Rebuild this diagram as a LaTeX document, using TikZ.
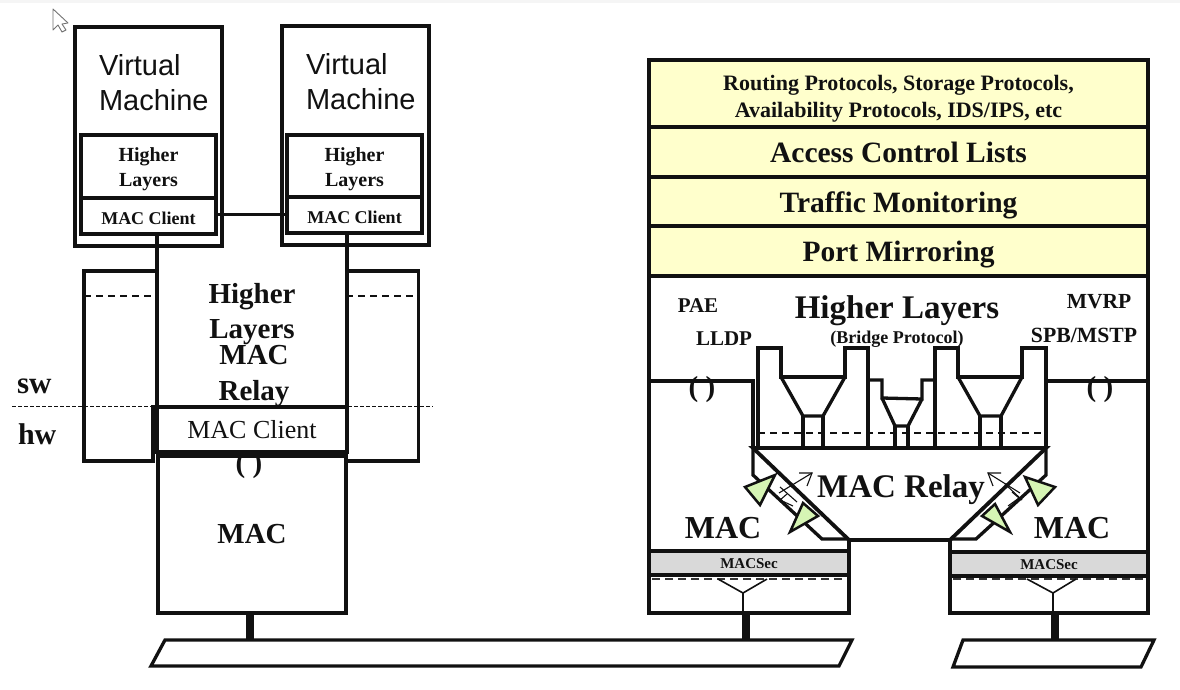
\documentclass[tikz,border=0pt]{standalone}
\usepackage{fontspec}
\setmainfont{Liberation Serif}
\newfontfamily\armfont{Liberation Sans}
\newcommand{\fs}[1]{\fontsize{#1}{#1}\selectfont}
\newcommand{\down}[2]{\raisebox{-#1pt}[0pt][0pt]{\begin{tabular}{@{}c@{}}#2\end{tabular}}}
\definecolor{ink}{HTML}{111111}
\definecolor{creme}{HTML}{FFFFCC}
\definecolor{leaf}{HTML}{D6F5B4}
\definecolor{sec}{HTML}{D9D9D9}
\tikzset{
  heavy/.style={draw=ink,line width=3.3pt,line join=miter},
  mid/.style={draw=ink,line width=1.6pt,line join=miter},
  boxn/.style={draw=ink,line width=3.3pt,fill=white,inner sep=0pt,outer sep=0pt,align=center,text=ink,font=\bfseries},
  stackn/.style={boxn,fill=creme},
  lab/.style={inner sep=0pt,outer sep=0pt,text=ink,font=\bfseries,align=center},
  plainlab/.style={inner sep=0pt,outer sep=0pt,text=ink},
  dash1/.style={draw=ink,line width=1.4pt,dash pattern=on 7pt off 5pt},
  dash2/.style={draw=ink!85,line width=1.8pt,dash pattern=on 8pt off 5pt},
  thin1/.style={draw=ink,line width=1.1pt},
  tri/.style={draw=ink,line width=2.5pt,fill=leaf,line join=miter},
}
\begin{document}
\begin{tikzpicture}[x=1pt,y=-1pt]
\useasboundingbox (0,0) rectangle (1180,690);
\fill[white] (0,0) rectangle (1180,690);
\fill[black!4] (0,0) rectangle (1180,3);
% cursor
\draw[draw=black!55,fill=white,line width=.9pt,line join=round] (53,9) -- (53,30) -- (58,25) -- (62,32) -- (66,30) -- (62,24) -- (68,23) -- cycle;

% ---- left: side panels
\draw[heavy] (157,271) -- (84,271) -- (84,461) -- (153,461) -- (153,405);
\draw[heavy] (346,271) -- (418.5,271) -- (418.5,461) -- (347,461);
\draw[dash1] (84,296) -- (157,296);
\draw[dash1] (346,296) -- (418,296);

% ---- left: virtual machines
\node[boxn,minimum width=147pt,minimum height=219pt] (vma) at (148.5,136.5) {};
\node[boxn,minimum width=147pt,minimum height=219pt] (vmb) at (355.5,135.5) {};
\node[plainlab,anchor=west,font=\armfont\fs{29}] (vta) at (99,65) {Virtual};
\node[plainlab,anchor=west,font=\armfont\fs{29}] (vtb) at (99,100) {Machine};
\node[plainlab,anchor=west,font=\armfont\fs{29}] (vtc) at (306,64) {Virtual};
\node[plainlab,anchor=west,font=\armfont\fs{29}] (vtd) at (306,99) {Machine};
\node[boxn,minimum width=135pt,minimum height=63pt,font=\bfseries\fs{20}] (hla) at (148.5,166.5) {\down{9}{Higher\\[5pt]Layers}};
\node[boxn,minimum width=135pt,minimum height=36pt,font=\bfseries\fs{18}] (mca) at (148.5,216) {\down{9}{MAC Client}};
\node[boxn,minimum width=135pt,minimum height=62pt,font=\bfseries\fs{20}] (hlb) at (354.5,166) {\down{9}{Higher\\[5pt]Layers}};
\node[boxn,minimum width=135pt,minimum height=36pt,font=\bfseries\fs{18}] (mcb) at (354.5,215) {\down{9}{MAC Client}};
\draw[heavy] ([yshift=1.5pt]mca.east) -- ([yshift=1.5pt]mca.east -| mcb.west);

% ---- left: hypervisor column
\node[boxn,line width=3.8pt,minimum width=190pt,minimum height=45pt,font=\fs{26}] (cl) at (252,429.5) {\down{10}{MAC Client}};
\node[boxn,minimum width=188pt,minimum height=157pt,font=\bfseries\fs{29}] (mb) at (252,534.5) {MAC};
\draw[heavy] (cl.north west |- mca.south) -- (cl.north west);
\draw[heavy] (cl.north east |- mcb.south) -- (cl.north east);
\node[lab,font=\bfseries\fs{29}] (t1) at (252,297) {Higher};
\node[lab,font=\bfseries\fs{29}] (t2) at (252,332) {Layers};
\node[lab,font=\bfseries\fs{29}] (t3) at (254,355) {MAC};
\node[lab,font=\bfseries\fs{29}] (t4) at (254,394) {Relay};
\node[lab,font=\bfseries\fs{29}] (p0) at (249,466) {( )};
\node[lab,anchor=west,font=\bfseries\fs{31}] (sw) at (17,386) {sw};
\node[lab,anchor=west,font=\bfseries\fs{30}] (hw) at (18,434) {hw};
\coordinate (dl) at (12,406);
\coordinate (dr) at (433,406);
\draw[draw=ink,line width=1pt,dash pattern=on 3.5pt off 2.5pt] (dl) -- (dr);

% ---- right: yellow stack
\node[stackn,minimum width=499pt,minimum height=67pt,font=\bfseries\fs{22}] (s1) at (898.5,93.5) {\down{11}{Routing Protocols, Storage Protocols,\\[5pt]Availability Protocols, IDS/IPS, etc}};
\node[stackn,minimum width=499pt,minimum height=50pt,font=\bfseries\fs{29.5}] (s2) at (898.5,152) {\down{11}{Access Control Lists}};
\node[stackn,minimum width=499pt,minimum height=49pt,font=\bfseries\fs{29.5}] (s3) at (898.5,201.5) {\down{11}{Traffic Monitoring}};
\node[stackn,minimum width=499pt,minimum height=50pt,font=\bfseries\fs{29.5}] (s4) at (898.5,251) {\down{11}{Port Mirroring}};

% frame
\draw[heavy] (s4.south west) -- (649,613) -- (849,613) -- (849,540);
\draw[heavy] (s4.south east) -- (1148,613) -- (950,613) -- (950,540);
\draw[heavy] (649,381) -- (753,381) -- (753,448);
\draw[heavy] (1148,381) -- (1046,381);

% towers and funnels
\draw[dash1] (758,433) -- (1046,433);
\draw[heavy] (758,448) -- (758,348) -- (781,348) -- (781,377) -- (845,377) -- (845,348) -- (868,348) -- (868,448);
\draw[heavy] (781,377) -- (803,416) -- (823,416) -- (845,377);
\draw[heavy] (803,416) -- (803,448);
\draw[heavy] (823,416) -- (823,448);
\draw[heavy] (868,380) -- (882,380) -- (882,398) -- (922,399) -- (922,380) -- (935,380);
\draw[heavy] (882,398) -- (895,426) -- (908,426) -- (922,399);
\draw[heavy] (895,426) -- (895,448);
\draw[heavy] (908,426) -- (908,448);
\draw[heavy] (935,448) -- (935,348) -- (958,348) -- (958,377) -- (1022,377) -- (1022,348) -- (1046,348) -- (1046,448);
\draw[heavy] (958,377) -- (980,416) -- (1001,416) -- (1022,377);
\draw[heavy] (980,416) -- (980,448);
\draw[heavy] (1001,416) -- (1001,448);

% relay trapezoid
\draw[draw=ink,line width=3.8pt,line join=miter] (849,540) -- (753,448) -- (1046,448) -- (950,540) -- cycle;
\draw[heavy] (753,448) -- (753,475) -- (822,539) -- (849,539);
\draw[heavy] (1046,448) -- (1046,475) -- (976,539) -- (950,539);

% small arrows
\draw[thin1] (779,493) -- (812,473);
\draw[thin1] (799,473) -- (812,473) -- (807,486);
\draw[thin1] (780,487) -- (797,502);
\draw[thin1] (787,494) -- (780,500) -- (793,506);
\draw[thin1] (1020,493) -- (988,473);
\draw[thin1] (1001,473) -- (988,473) -- (993,486);
\draw[thin1] (1005,484) -- (1022,500);
\draw[thin1] (1012,492) -- (1019,498) -- (1008,506);

% triangles
\draw[tri] (775,475) -- (745,487) -- (760,505) -- cycle;
\draw[tri] (803,503) -- (818,516) -- (790,532) -- cycle;
\draw[tri] (1025,477) -- (1055,487) -- (1038,505) -- cycle;
\draw[tri] (995,504) -- (1010,532) -- (982,516) -- cycle;

% MACSec
\node[boxn,fill=sec,minimum width=200pt,minimum height=24pt,font=\bfseries\fs{15}] (sa) at (749,563) {\down{6}{MACSec}};
\node[boxn,fill=sec,minimum width=198pt,minimum height=24pt,font=\bfseries\fs{15}] (sb) at (1049,564) {\down{6}{MACSec}};
\draw[dash2] (652,579) -- (846,579);
\draw[dash2] (953,579) -- (1145,579);
\draw[mid] (718,579) -- (743,593) -- (767,579);
\draw[mid] (743,593) -- (743,613);
\draw[mid] (1027,579) -- (1053,593) -- (1076,579);
\draw[mid] (1053,593) -- (1053,613);

% buses
\draw[heavy,fill=white] (165,640) -- (852,640) -- (839,666) -- (151,666) -- cycle;
\draw[heavy,fill=white] (963,640) -- (1154,640) -- (1141,667) -- (953,667) -- cycle;
\draw[draw=ink,line width=8pt] (250,613) -- (250,640);
\draw[draw=ink,line width=8pt] (746,613) -- (746,640);
\draw[draw=ink,line width=8pt] (1055,613) -- (1055,640);

% right labels
\node[lab,font=\bfseries\fs{21}] (pae) at (698,306) {PAE};
\node[lab,font=\bfseries\fs{21}] (lldp) at (724,339) {LLDP};
\node[lab,font=\bfseries\fs{21.5}] (mvrp) at (1099,302) {MVRP};
\node[lab,font=\bfseries\fs{21.7}] (spb) at (1084,335) {SPB/MSTP};
\node[lab,font=\bfseries\fs{33}] (hlr) at (897,311) {Higher Layers};
\node[lab,font=\bfseries\fs{18}] (bp) at (897,339) {(Bridge Protocol)};
\node[lab,font=\bfseries\fs{33}] (rel) at (901,490) {MAC Relay};
\node[lab,font=\bfseries\fs{32}] (ml) at (723,528) {MAC};
\node[lab,font=\bfseries\fs{32}] (mr) at (1072,528) {MAC};
\node[lab,font=\bfseries\fs{29}] (pl) at (702,390) {( )};
\node[lab,font=\bfseries\fs{29}] (pr) at (1100,390) {( )};
\end{tikzpicture}
\end{document}
